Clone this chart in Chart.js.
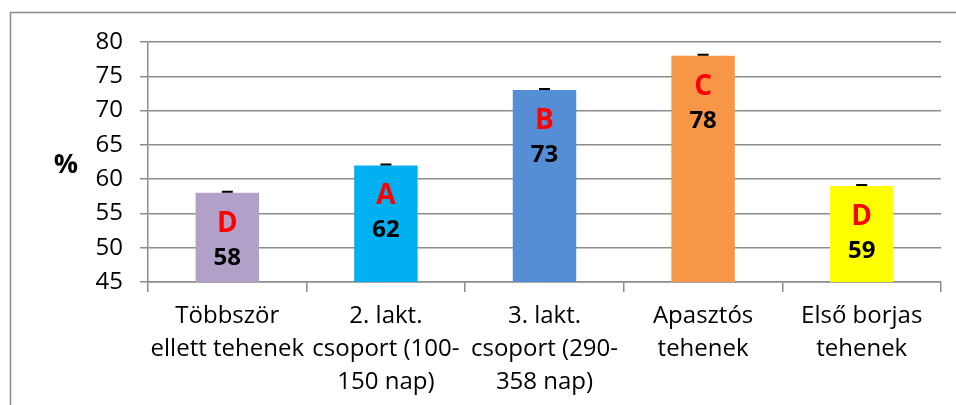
<!DOCTYPE html>
<html>
<head>
<meta charset="utf-8">
<script src="https://cdn.jsdelivr.net/npm/chart.js@4"></script>
<style>
  html, body { margin: 0; padding: 0; background: #fff; }
  #wrap { width: 956px; height: 405px; position: relative; }
</style>
</head>
<body>
<div id="wrap"><canvas id="chart"></canvas></div>
<script>
const categories = [
  ["Többször", "ellett tehenek"],
  ["2. lakt.", "csoport (100-", "150 nap)"],
  ["3. lakt.", "csoport (290-", "358 nap)"],
  ["Apasztós", "tehenek"],
  ["Első borjas", "tehenek"]
];
const values = [58, 62, 73, 78, 59];
const errors = [0.15, 0.15, 0.15, 0.15, 0.15];
const letters = ["D", "A", "B", "C", "D"];
const barColors = ["#B1A0C7", "#00B0F0", "#558ED5", "#F79646", "#FFFF00"];
const yTicks = [45, 50, 55, 60, 65, 70, 75, 80];

const FONT = "'Open Sans', 'Noto Sans', sans-serif";
const GRID = "#8c8c8c";

// outer frame, the "%" label, error caps and in-bar labels
const extras = {
  id: "extras",
  beforeDraw(chart) {
    const ctx = chart.ctx;
    ctx.save();
    ctx.strokeStyle = "#8c8c8c";
    ctx.lineWidth = 1.5;
    ctx.beginPath();
    ctx.moveTo(10.5, 405);
    ctx.lineTo(10.5, 12.5);
    ctx.lineTo(956, 12.5);
    ctx.stroke();

    const area = chart.chartArea;
    ctx.fillStyle = "#000";
    ctx.font = "bold 27px " + FONT;
    ctx.textAlign = "center";
    ctx.textBaseline = "middle";
    ctx.fillText("%", 66, (area.top + area.bottom) / 2 + 3);
    ctx.restore();
  },
  afterDatasetsDraw(chart) {
    const ctx = chart.ctx;
    const yScale = chart.scales.y;
    const meta = chart.getDatasetMeta(0);
    ctx.save();
    meta.data.forEach((bar, i) => {
      // error bar
      const yTop = yScale.getPixelForValue(values[i] + errors[i]);
      ctx.strokeStyle = "#000";
      ctx.lineWidth = 2;
      ctx.beginPath();
      ctx.moveTo(bar.x, bar.y);
      ctx.lineTo(bar.x, yTop);
      ctx.moveTo(bar.x - 5.5, yTop);
      ctx.lineTo(bar.x + 5.5, yTop);
      ctx.stroke();

      ctx.textAlign = "center";
      ctx.textBaseline = "middle";
      ctx.fillStyle = "#FF0000";
      ctx.font = "bold 28px " + FONT;
      ctx.fillText(letters[i], bar.x, bar.y + 31);
      ctx.fillStyle = "#000";
      ctx.font = "bold 24px " + FONT;
      ctx.fillText(String(values[i]), bar.x, bar.y + 65);
    });
    ctx.restore();
  }
};

new Chart(document.getElementById("chart"), {
  type: "bar",
  data: {
    labels: categories,
    datasets: [{
      data: values,
      backgroundColor: barColors,
      borderWidth: 0,
      barPercentage: 0.4,
      categoryPercentage: 1
    }]
  },
  options: {
    responsive: true,
    maintainAspectRatio: false,
    animation: false,
    devicePixelRatio: 1,
    layout: { padding: { left: 0, top: 42, right: 15, bottom: 0 } },
    plugins: {
      legend: { display: false },
      tooltip: { enabled: false }
    },
    scales: {
      x: {
        afterFit: (s) => { s.height = 123; },
        grid: {
          drawOnChartArea: false,
          drawTicks: true,
          tickLength: 10,
          color: GRID,
          lineWidth: 1.5
        },
        border: { color: GRID, width: 1.5 },
        ticks: {
          color: "#000",
          padding: 8,
          maxRotation: 0,
          autoSkip: false,
          font: { family: FONT, size: 24, lineHeight: 1.375 }
        }
      },
      y: {
        min: yTicks[0],
        max: yTicks[yTicks.length - 1],
        afterFit: (s) => { s.width = 148; },
        afterBuildTicks: (s) => { s.ticks = yTicks.map(v => ({ value: v })); },
        grid: {
          color: GRID,
          lineWidth: 1.5,
          tickLength: 8
        },
        border: { color: GRID, width: 1.5 },
        ticks: {
          color: "#000",
          padding: 17,
          font: { family: FONT, size: 24 }
        }
      }
    }
  },
  plugins: [extras]
});
</script>
</body>
</html>
